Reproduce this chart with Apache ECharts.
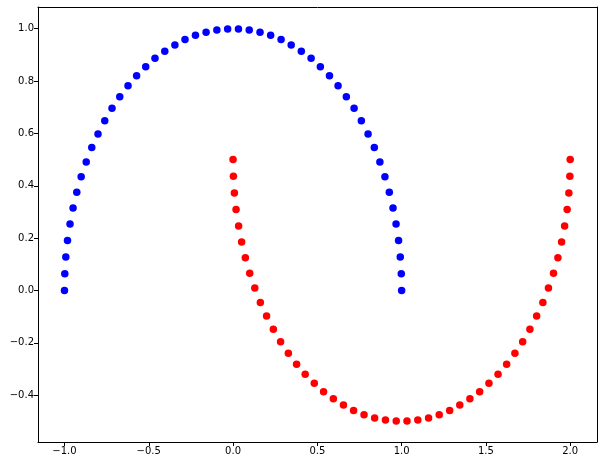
<!DOCTYPE html>
<html><head><meta charset="utf-8">
<script src="https://cdn.jsdelivr.net/npm/echarts@6/dist/echarts.min.js"></script>
<style>html,body{margin:0;padding:0;background:#fff}#c{width:603px;height:466px}</style>
</head><body><div id="c"></div>
<script>
const outerX = [1, 0.998, 0.992, 0.982, 0.967, 0.949, 0.927, 0.901, 0.871, 0.838, 0.801, 0.761, 0.718, 0.672, 0.623, 0.572, 0.518, 0.463, 0.405, 0.345, 0.285, 0.223, 0.160, 0.096, 0.032, -0.032, -0.096, -0.160, -0.223, -0.285, -0.345, -0.405, -0.463, -0.518, -0.572, -0.623, -0.672, -0.718, -0.761, -0.801, -0.838, -0.871, -0.901, -0.927, -0.949, -0.967, -0.982, -0.992, -0.998, -1];
const outerY = [0, 0.064, 0.128, 0.191, 0.254, 0.315, 0.375, 0.434, 0.491, 0.546, 0.598, 0.648, 0.696, 0.740, 0.782, 0.820, 0.855, 0.887, 0.914, 0.938, 0.959, 0.975, 0.987, 0.995, 0.999, 0.999, 0.995, 0.987, 0.975, 0.959, 0.938, 0.914, 0.887, 0.855, 0.820, 0.782, 0.740, 0.696, 0.648, 0.598, 0.546, 0.491, 0.434, 0.375, 0.315, 0.254, 0.191, 0.128, 0.064, 0];
const innerX = [0, 0.002, 0.008, 0.018, 0.033, 0.051, 0.073, 0.099, 0.129, 0.162, 0.199, 0.239, 0.282, 0.328, 0.377, 0.428, 0.482, 0.537, 0.595, 0.655, 0.715, 0.777, 0.840, 0.904, 0.968, 1.032, 1.096, 1.160, 1.223, 1.285, 1.345, 1.405, 1.463, 1.518, 1.572, 1.623, 1.672, 1.718, 1.761, 1.801, 1.838, 1.871, 1.901, 1.927, 1.949, 1.967, 1.982, 1.992, 1.998, 2];
const innerY = [0.5, 0.436, 0.372, 0.309, 0.246, 0.185, 0.125, 0.066, 0.009, -0.046, -0.098, -0.148, -0.196, -0.240, -0.282, -0.320, -0.355, -0.387, -0.414, -0.438, -0.459, -0.475, -0.487, -0.495, -0.499, -0.499, -0.495, -0.487, -0.475, -0.459, -0.438, -0.414, -0.387, -0.355, -0.320, -0.282, -0.240, -0.196, -0.148, -0.098, -0.046, 0.009, 0.066, 0.125, 0.185, 0.246, 0.309, 0.372, 0.436, 0.5];
const xTicks = [-1.0, -0.5, 0.0, 0.5, 1.0, 1.5, 2.0];
const yTicks = [-0.4, -0.2, 0.0, 0.2, 0.4, 0.6, 0.8, 1.0];

const chart = echarts.init(document.getElementById('c'), null, {renderer: 'canvas'});
const zip = (a, b) => a.map((v, i) => [v, b[i]]);
const fmt = v => v.toFixed(1).replace('-', '\u2212');
const lab = {color: '#000', fontSize: 10, fontFamily: 'DejaVu Sans', margin: 4};
const line = {show: true, onZero: false, lineStyle: {color: '#000', width: 1}};
chart.setOption({
  animation: false,
  backgroundColor: '#fff',
  grid: {left: 38, right: 6, top: 7, bottom: 24, containLabel: false},
  xAxis: [{
    type: 'value', min: -1.157, max: 2.159,
    axisLine: line,
    axisTick: {show: true, length: 4, lineStyle: {color: '#000'}, customValues: xTicks},
    axisLabel: Object.assign({}, lab, {customValues: xTicks, formatter: fmt}),
    splitLine: {show: false}
  }, {
    type: 'value', position: 'top', min: -1.157, max: 2.159,
    axisLine: line, axisTick: {show: false}, axisLabel: {show: false}, splitLine: {show: false}
  }],
  yAxis: [{
    type: 'value', min: -0.579, max: 1.083,
    axisLine: line,
    axisTick: {show: true, length: 4, lineStyle: {color: '#000'}, customValues: yTicks},
    axisLabel: Object.assign({}, lab, {customValues: yTicks, formatter: fmt}),
    splitLine: {show: false}
  }, {
    type: 'value', position: 'right', min: -0.579, max: 1.083,
    axisLine: line, axisTick: {show: false}, axisLabel: {show: false}, splitLine: {show: false}
  }],
  series: [
    {type: 'scatter', data: zip(outerX, outerY), symbolSize: 7.5, itemStyle: {color: '#0000ff', opacity: 1}},
    {type: 'scatter', data: zip(innerX, innerY), symbolSize: 7.5, itemStyle: {color: '#ff0000', opacity: 1}}
  ]
});
</script></body></html>
